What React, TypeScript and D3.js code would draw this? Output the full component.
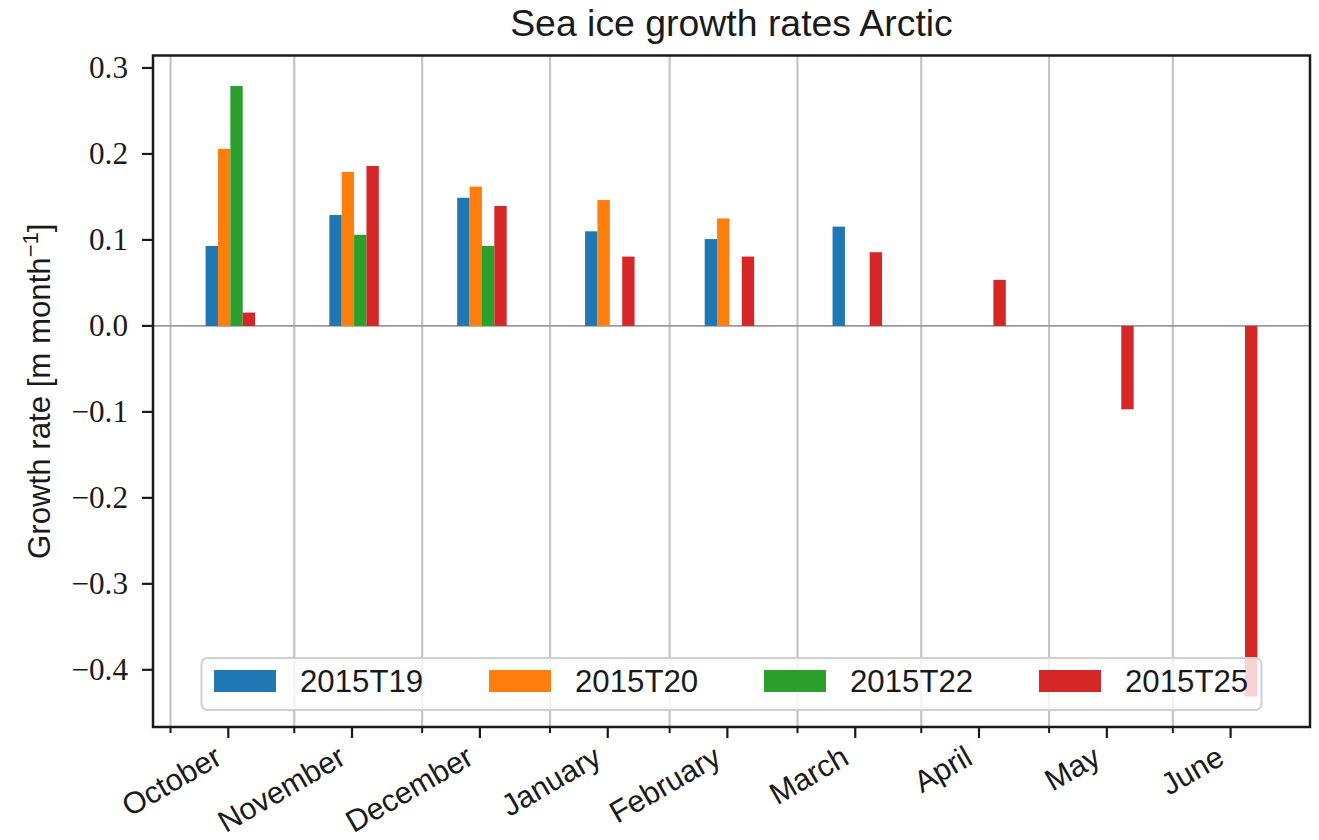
import React from "react";
import * as d3 from "d3";

// Month labels and the dates their ticks sit on
const monthLabels = ["October", "November", "December", "January", "February", "March", "April", "May", "June"];
const monthDates = ["2015-11-15", "2015-12-15", "2016-01-15", "2016-02-15", "2016-03-15", "2016-04-15", "2016-05-15", "2016-06-15", "2016-07-15"];

// Buoy names and their monthly growth rates [m month^-1]
const buoyNames = ["2015T19", "2015T20", "2015T22", "2015T25"];
const rateT19 = [0.093, 0.129, 0.149, 0.110, 0.101, 0.1155, null, null, null];
const rateT20 = [0.206, 0.179, 0.162, 0.1465, 0.125, null, null, null, null];
const rateT22 = [0.279, 0.106, 0.093, null, null, null, null, null, null];
const rateT25 = [0.0155, 0.186, 0.1395, 0.0806, 0.0806, 0.0857, 0.0535, -0.097, -0.431];
const buoyColors = ["#1f77b4", "#ff7f0e", "#2ca02c", "#d62728"];

const W = 1319;
const H = 840;
const left = 153;
const right = 1310;
const top = 55.5;
const bottom = 727;
const DAY = 86400000;
const barDays = 3;
const offsets = [-4, -1, 2, 5];

const sans = "'Liberation Sans', Arial, Helvetica, sans-serif";
const serif = "'Liberation Serif', 'Times New Roman', serif";
const fs = 31.2;

export default function App() {
  const series = [rateT19, rateT20, rateT22, rateT25];
  const dates = monthDates.map((s) => new Date(s + "T00:00:00Z"));

  // x extent from the bar edges, padded 5% on both sides
  const xMin = +dates[0] + (offsets[0] - barDays / 2) * DAY;
  const xMax = +dates[dates.length - 1] + (offsets[3] + barDays / 2) * DAY;
  const xPad = (xMax - xMin) * 0.05;
  const x = d3.scaleUtc().domain([new Date(xMin - xPad), new Date(xMax + xPad)]).range([left, right]);

  const all = series.flat().filter((v) => v != null) as number[];
  const vMin = Math.min(0, d3.min(all)!);
  const vMax = Math.max(0, d3.max(all)!);
  const yPad = (vMax - vMin) * 0.05;
  const y = d3.scaleLinear().domain([vMin - yPad, vMax + yPad]).range([bottom, top]);

  const yTicks = y.ticks(8);
  const fmt = d3.format(".1f");
  // month starts from November through July
  const gridDates = d3.utcMonth.range(new Date(Date.UTC(2015, 10, 1)), new Date(Date.UTC(2016, 6, 2)));

  const bars: any[] = [];
  series.forEach((vals, si) => {
    vals.forEach((v, mi) => {
      if (v == null) return;
      const c = +dates[mi] + offsets[si] * DAY;
      const x0 = x(new Date(c - (barDays / 2) * DAY));
      const x1 = x(new Date(c + (barDays / 2) * DAY));
      const y0 = y(Math.max(0, v));
      const y1 = y(Math.min(0, v));
      bars.push(<rect key={`b${si}-${mi}`} x={x0} y={y0} width={x1 - x0} height={y1 - y0} fill={buoyColors[si]} />);
    });
  });

  const legLeft = 201.5;
  const legRight = 1261.5;
  const legTop = 658;
  const legBottom = 710;
  const colStep = 275;

  return (
    <svg width={W} height={H} style={{ position: "absolute", left: 0, top: 0, background: "#fff" }}>
      <rect x={0} y={0} width={W} height={H} fill="#fff" />
      {/* vertical grid at month starts */}
      {gridDates.map((d, i) => (
        <line key={`g${i}`} x1={x(d)} x2={x(d)} y1={top} y2={bottom} stroke="#c4c4c4" strokeWidth={2.2} />
      ))}
      {/* zero line */}
      <line x1={left} x2={right} y1={y(0)} y2={y(0)} stroke="#9a9a9a" strokeWidth={1.6} />
      {bars}

      {/* legend */}
      <rect x={legLeft} y={legTop} width={legRight - legLeft} height={legBottom - legTop} rx={6} ry={6}
        fill="#fff" fillOpacity={0.8} stroke="#d0d0d0" strokeWidth={2} />
      {buoyNames.map((n, i) => (
        <g key={`l${i}`}>
          <rect x={214 + i * colStep} y={670} width={62} height={22} fill={buoyColors[i]} />
          <text x={300 + i * colStep} y={691.5} fontFamily={sans} fontSize={fs} fill="#1a1a1a">{n}</text>
        </g>
      ))}

      {/* spines */}
      <rect x={left} y={top} width={right - left} height={bottom - top} fill="none" stroke="#1a1a1a" strokeWidth={2.5} />

      {/* y axis */}
      {yTicks.map((t, i) => (
        <g key={`y${i}`}>
          <line x1={left - 11} x2={left} y1={y(t)} y2={y(t)} stroke="#1a1a1a" strokeWidth={2.2} />
          <text x={128} y={y(t) + 10.5} textAnchor="end" fontFamily={serif} fontSize={fs} fill="#1a1a1a">
            {fmt(t)}
          </text>
        </g>
      ))}
      <text transform={`translate(50, ${(top + bottom) / 2}) rotate(-90)`} textAnchor="middle"
        fontFamily={sans} fontSize={fs} fill="#1a1a1a">
        Growth rate [m month<tspan dy={-12} fontSize={22}>−1</tspan><tspan dy={12}>]</tspan>
      </text>

      {/* x axis */}
      {gridDates.map((d, i) => (
        <line key={`mt${i}`} x1={x(d)} x2={x(d)} y1={bottom} y2={bottom + 6} stroke="#1a1a1a" strokeWidth={2} />
      ))}
      {dates.map((d, i) => {
        const tx = x(d);
        const ax = tx - 4.5;
        const ay = 763;
        return (
          <g key={`x${i}`}>
            <line x1={tx} x2={tx} y1={bottom} y2={bottom + 11} stroke="#1a1a1a" strokeWidth={2.2} />
            <text x={ax} y={ay} textAnchor="end" transform={`rotate(-30, ${ax}, ${ay})`}
              fontFamily={sans} fontSize={30.5} fill="#1a1a1a">
              {monthLabels[i]}
            </text>
          </g>
        );
      })}

      {/* title */}
      <text x={(left + right) / 2} y={36} textAnchor="middle" fontFamily={sans} fontSize={37.4} fill="#1a1a1a">
        Sea ice growth rates Arctic
      </text>
    </svg>
  );
}
